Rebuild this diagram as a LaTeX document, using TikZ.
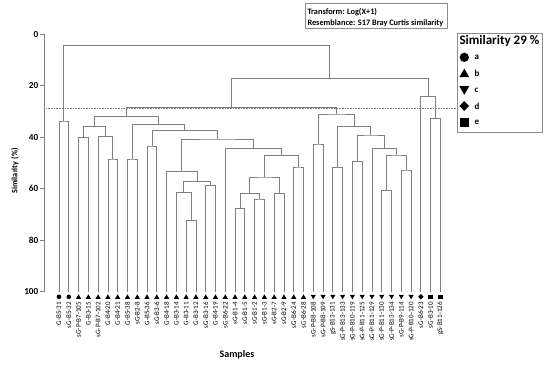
\documentclass[tikz,border=0pt]{standalone}
\usepackage{fontspec}
\setmainfont{Carlito}
\usetikzlibrary{shapes.geometric}
\definecolor{treegray}{HTML}{7F7F7F}
\definecolor{boxgray}{HTML}{8C8C8C}
\tikzset{
  tree/.style={draw=treegray, line width=0.8pt},
  axisline/.style={draw=treegray, line width=0.8pt},
  cutline/.style={draw=treegray, line width=0.5pt, dash pattern=on 0.8pt off 0.8pt},
  infobox/.style={draw=boxgray, line width=0.7pt, fill=white},
  leaflab/.style={rotate=90, anchor=east, inner sep=0pt, font=\fontsize{7}{7}\selectfont},
  ticklab/.style={anchor=east, inner sep=0pt, font=\fontsize{9.2}{9.2}\selectfont\bfseries},
  sym/.style={fill=black, draw=none, inner sep=0pt},
  symA/.style={sym, circle, minimum size=4.6pt},
  symB/.style={sym, regular polygon, regular polygon sides=3, minimum size=6pt},
  symC/.style={symB, shape border rotate=180},
  symD/.style={sym, diamond, minimum size=5.6pt},
  symE/.style={sym, rectangle, minimum size=4.4pt},
}
\begin{document}
\begin{tikzpicture}[x=1pt, y=-1pt]
\useasboundingbox[fill=white] (0,0) rectangle (550,365);

% leaves
\foreach \i in {1,...,40} \coordinate (l\i) at ({59+(\i-1)*9.78}, 291.7);

% internal joins
\coordinate (nA) at (63.89,121);
\coordinate (n34) at (83.45,137.7);
\coordinate (n67) at (112.79,159);
\coordinate (n567) at (105.455,136.7);
\coordinate (n3to7) at (94.45,126.7);
\coordinate (n89) at (132.35,159);
\coordinate (n1011) at (151.91,146);
\coordinate (n1415) at (191.03,220.5);
\coordinate (n1315) at (183.70,192.5);
\coordinate (n1617) at (210.59,185.5);
\coordinate (n1317) at (197.14,181.7);
\coordinate (n1217) at (181.86,171.2);
\coordinate (n1920) at (239.93,208.2);
\coordinate (n2122) at (259.49,199);
\coordinate (n1922) at (249.71,193.5);
\coordinate (n2324) at (279.05,193.5);
\coordinate (n1924) at (264.38,177);
\coordinate (n2526) at (298.61,167);
\coordinate (n1926) at (281.5,155.7);
\coordinate (n1826) at (253.38,148.3);
\coordinate (n1226) at (217.62,139);
\coordinate (n1026) at (184.77,130.8);
\coordinate (n826) at (158.56,124.3);
\coordinate (n326) at (126.5,116.7);
\coordinate (n2728) at (318.17,144);
\coordinate (n2930) at (337.73,167.3);
\coordinate (n3132) at (357.29,161.7);
\coordinate (n3435) at (386.63,190.7);
\coordinate (n3637) at (406.19,170);
\coordinate (n3437) at (396.41,155);
\coordinate (n3337) at (384.19,148.3);
\coordinate (n3137) at (370.74,135);
\coordinate (n2937) at (354.24,126.7);
\coordinate (n2737) at (336.2,114);
\coordinate (nC) at (231.35,107.6);
\coordinate (n3940) at (435.53,118.3);
\coordinate (nD) at (428.2,96.7);
\coordinate (nCD) at (329.8,78.3);
\coordinate (nRoot) at (196.8,45.7);

% axis
\coordinate (ax0) at (44.3,34.3);
\coordinate (ax100) at (44.3,291.7);
\draw[axisline] (ax0) -- (ax100);
\foreach \v in {0,20,40,60,80,100} {
  \draw[axisline] (40.3,{34.3+2.574*\v}) -- (44.3,{34.3+2.574*\v});
  \node[ticklab] (tick\v) at (38.5,{34.3+2.574*\v}) {\v};
}
\node[rotate=90, font=\fontsize{8.2}{8.2}\selectfont\bfseries] (ylab) at (15,171) {Similarity (\%)};
\node[font=\fontsize{10}{10}\selectfont\bfseries] (xlab) at (237,355) {Samples};

% cut line
\coordinate (cutL) at (44.3,108.3);
\coordinate (cutR) at (456.7,108.3);
\draw[cutline] (cutL) -- (cutR);

% tree
\draw[tree] (l1) |- (nA) -| (l2);
\draw[tree] (l3) |- (n34) -| (l4);
\draw[tree] (l6) |- (n67) -| (l7);
\draw[tree] (l5) |- (n567) -| (n67);
\draw[tree] (n34) |- (n3to7) -| (n567);
\draw[tree] (l8) |- (n89) -| (l9);
\draw[tree] (l10) |- (n1011) -| (l11);
\draw[tree] (l14) |- (n1415) -| (l15);
\draw[tree] (l13) |- (n1315) -| (n1415);
\draw[tree] (l16) |- (n1617) -| (l17);
\draw[tree] (n1315) |- (n1317) -| (n1617);
\draw[tree] (l12) |- (n1217) -| (n1317);
\draw[tree] (l19) |- (n1920) -| (l20);
\draw[tree] (l21) |- (n2122) -| (l22);
\draw[tree] (n1920) |- (n1922) -| (n2122);
\draw[tree] (l23) |- (n2324) -| (l24);
\draw[tree] (n1922) |- (n1924) -| (n2324);
\draw[tree] (l25) |- (n2526) -| (l26);
\draw[tree] (n1924) |- (n1926) -| (n2526);
\draw[tree] (l18) |- (n1826) -| (n1926);
\draw[tree] (n1217) |- (n1226) -| (n1826);
\draw[tree] (n1011) |- (n1026) -| (n1226);
\draw[tree] (n89) |- (n826) -| (n1026);
\draw[tree] (n3to7) |- (n326) -| (n826);
\draw[tree] (l27) |- (n2728) -| (l28);
\draw[tree] (l29) |- (n2930) -| (l30);
\draw[tree] (l31) |- (n3132) -| (l32);
\draw[tree] (l34) |- (n3435) -| (l35);
\draw[tree] (l36) |- (n3637) -| (l37);
\draw[tree] (n3435) |- (n3437) -| (n3637);
\draw[tree] (l33) |- (n3337) -| (n3437);
\draw[tree] (n3132) |- (n3137) -| (n3337);
\draw[tree] (n2930) |- (n2937) -| (n3137);
\draw[tree] (n2728) |- (n2737) -| (n2937);
\draw[tree] (n326) |- (nC) -| (n2737);
\draw[tree] (l39) |- (n3940) -| (l40);
\draw[tree] (l38) |- (nD) -| (n3940);
\draw[tree] (nC) |- (nCD) -| (nD);
\draw[tree] (nA) |- (nRoot) -| (nCD);

% symbols
\foreach \i in {1,2} \node[symA] (s\i) at ({59+(\i-1)*9.78}, 296.8) {};
\foreach \i in {3,...,26} \node[symB] (s\i) at ({59+(\i-1)*9.78}, 297.3) {};
\foreach \i in {27,...,37} \node[symC] (s\i) at ({59+(\i-1)*9.78}, 296.3) {};
\node[symD] (s38) at ({59+37*9.78}, 296.8) {};
\foreach \i in {39,40} \node[symE] (s\i) at ({59+(\i-1)*9.78}, 296.8) {};

% labels
\foreach \lab [count=\i] in {G-B5-31, sG-B5-32, sG-P-B7-105, G-B3-15, sG-P-B7-102, G-B4-20, G-B4-21, G-B5-38, sG-B2-8, G-B5-36, sG-B3-6, G-B4-18, G-B3-14, G-B3-11, G-B3-12, sG-B3-16, G-B4-19, sG-B6-22, sG-B1-4, sG-B1-5, sG-B1-2, sG-B1-3, sG-B2-7, sG-B2-9, sG-B6-24, sG-B6-28, sG-P-B8-108, sG-P-B8-109, gS-B13-131, sG-P-B13-133, sG-P-B10-119, sG-P-B11-125, sG-P-B11-129, sG-P-B11-130, sG-P-B13-134, sG-P-B9-114, sG-P-B10-120, sG-B6-23, sG-B3-10, gS-B11-126}
  \node[leaflab] (t\i) at ({59+(\i-1)*9.78}, 302) {\lab};

% info box
\node[infobox, anchor=north west, minimum width=142.3pt, minimum height=25pt, inner sep=0pt] (info) at (305,3.3) {};
\node[anchor=west, inner sep=0pt, font=\fontsize{8.3}{8.3}\selectfont\bfseries] (info1) at (307.3,12.5) {Transform: Log(X+1)};
\node[anchor=west, inner sep=0pt, font=\fontsize{8.3}{8.3}\selectfont\bfseries] (info2) at (307.3,23.3) {Resemblance: S17 Bray Curtis similarity};

% legend
\node[infobox, anchor=north west, minimum width=85.6pt, minimum height=98.4pt, inner sep=0pt] (leg) at (456.7,33.3) {};
\node[anchor=west, inner sep=0pt, font=\fontsize{13}{13}\selectfont\bfseries] (legt) at (459.3,41) {Similarity 29 \%};
\node[sym, circle, minimum size=9.3pt] (ga) at (464.3,57.3) {};
\node[sym, regular polygon, regular polygon sides=3, minimum size=11.5pt] (gb) at (464.3,74.3) {};
\node[sym, regular polygon, regular polygon sides=3, minimum size=11.5pt, shape border rotate=180] (gc) at (464.3,89) {};
\node[sym, diamond, minimum size=10pt] (gd) at (464.3,106) {};
\node[sym, rectangle, minimum size=8.5pt] (ge) at (464.3,122.7) {};
\foreach \n/\t/\yy in {a/a/57.3, b/b/73.3, c/c/90, d/d/106, e/e/122.7}
  \node[anchor=west, inner sep=0pt, font=\fontsize{9}{9}\selectfont\bfseries] (lt\n) at (474.5,\yy) {\t};
\end{tikzpicture}
\end{document}
